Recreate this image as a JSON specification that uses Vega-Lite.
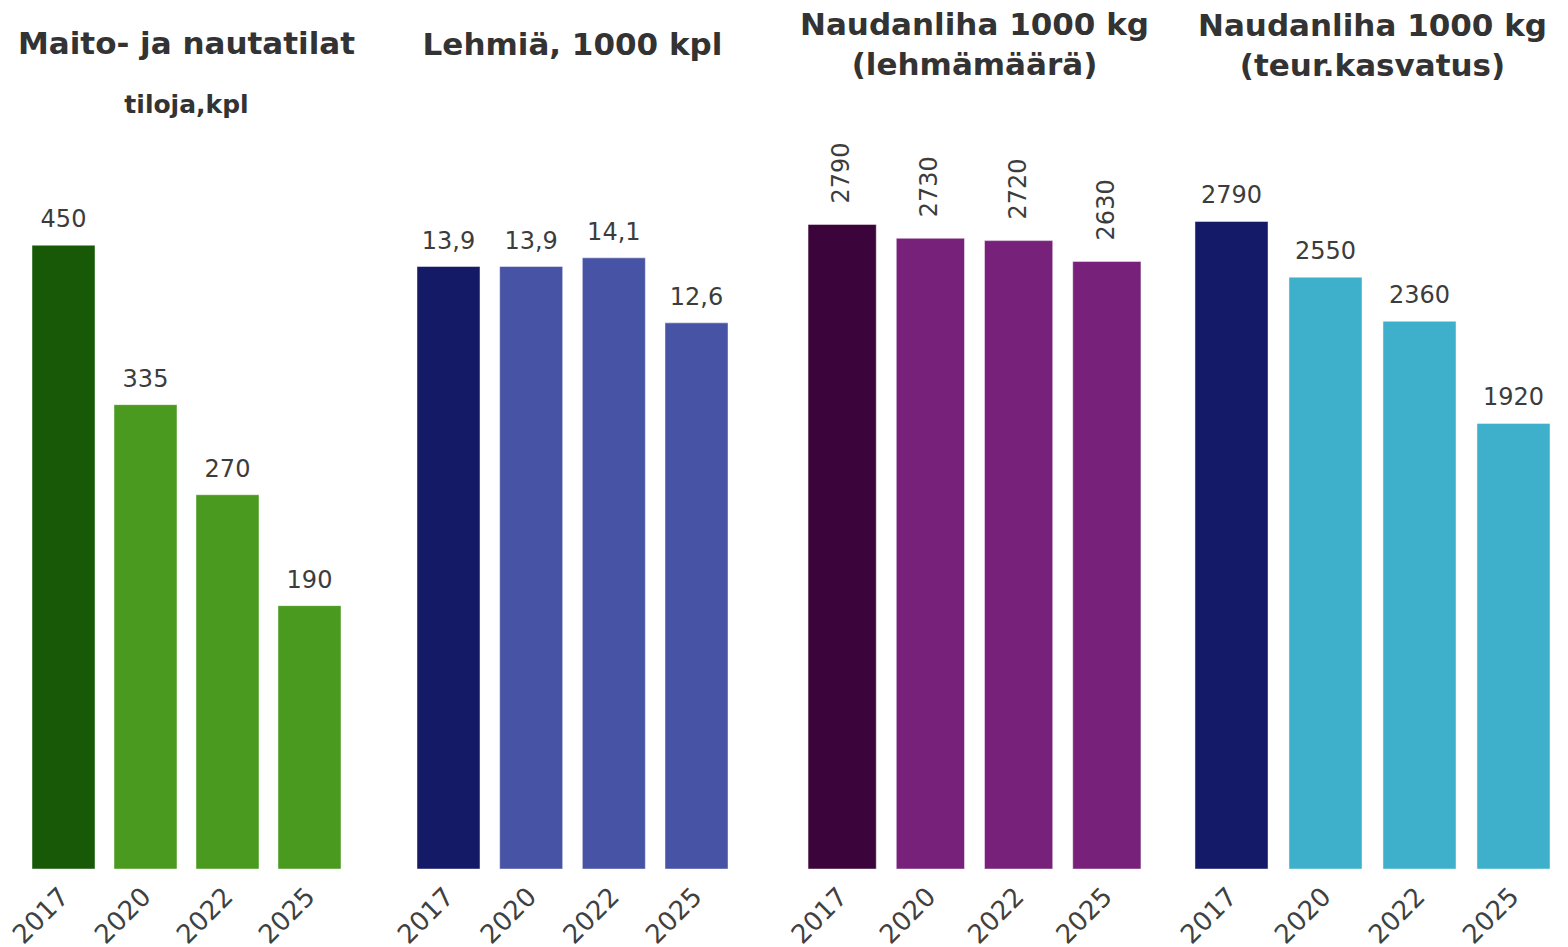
{
  "$schema": "https://vega.github.io/schema/vega-lite/v6.json",
  "padding": {"left": 8, "top": 10, "right": 0, "bottom": 0},
  "background": "#ffffff",
  "datasets": {
    "tilat": [
      {"vuosi": "2017", "arvo": 450},
      {"vuosi": "2020", "arvo": 335},
      {"vuosi": "2022", "arvo": 270},
      {"vuosi": "2025", "arvo": 190}
    ],
    "lehmat": [
      {"vuosi": "2017", "arvo": 13.9},
      {"vuosi": "2020", "arvo": 13.9},
      {"vuosi": "2022", "arvo": 14.1},
      {"vuosi": "2025", "arvo": 12.6}
    ],
    "liha_lehma": [
      {"vuosi": "2017", "arvo": 2790},
      {"vuosi": "2020", "arvo": 2730},
      {"vuosi": "2022", "arvo": 2720},
      {"vuosi": "2025", "arvo": 2630}
    ],
    "liha_teur": [
      {"vuosi": "2017", "arvo": 2790},
      {"vuosi": "2020", "arvo": 2550},
      {"vuosi": "2022", "arvo": 2360},
      {"vuosi": "2025", "arvo": 1920}
    ]
  },
  "hconcat": [
    {
      "width": 357,
      "height": 700,
      "title": {"text": "Maito- ja nautatilat", "subtitle": "tiloja,kpl", "offset": 50, "subtitlePadding": 32},
      "data": {"name": "tilat"},
      "encoding": {
        "x": {"field": "vuosi", "type": "ordinal", "sort": null, "scale": {"paddingInner": 0.2317, "paddingOuter": 0.2927}},
        "y": {"field": "arvo", "type": "quantitative", "scale": {"domain": [0, 505], "nice": false}, "axis": null}
      },
      "layer": [
        {
          "mark": {"type": "bar", "stroke": "#ffffff", "strokeOpacity": 0.45, "strokeWidth": 1},
          "encoding": {"color": {"condition": {"test": "datum.vuosi === '2017'", "value": "#175907"}, "value": "#4a9a1f"}}
        },
        {
          "mark": {"type": "text", "baseline": "alphabetic", "dy": -18, "font": "DejaVu Sans", "fontSize": 24, "color": "#3c3c3c"},
          "encoding": {"text": {"field": "arvo", "type": "quantitative", "format": "d"}}
        }
      ]
    },
    {
      "width": 395,
      "height": 700,
      "title": {"text": "Lehmiä, 1000 kpl", "offset": 107},
      "data": {"name": "lehmat"},
      "encoding": {
        "x": {"field": "vuosi", "type": "ordinal", "sort": null, "scale": {"paddingInner": 0.238, "paddingOuter": 0.508}},
        "y": {"field": "arvo", "type": "quantitative", "scale": {"domain": [0, 16.15], "nice": false}, "axis": null}
      },
      "layer": [
        {
          "mark": {"type": "bar", "stroke": "#ffffff", "strokeOpacity": 0.45, "strokeWidth": 1},
          "encoding": {"color": {"condition": {"test": "datum.vuosi === '2017'", "value": "#141a66"}, "value": "#4753a4"}}
        },
        {
          "mark": {"type": "text", "baseline": "alphabetic", "dy": -18, "font": "DejaVu Sans", "fontSize": 24, "color": "#3c3c3c"},
          "encoding": {"text": {"field": "arvo", "type": "quantitative", "format": ".1f"}}
        }
      ]
    },
    {
      "width": 389,
      "height": 700,
      "title": {"text": ["Naudanliha 1000 kg", "(lehmämäärä)"], "offset": 60},
      "data": {"name": "liha_lehma"},
      "encoding": {
        "x": {"field": "vuosi", "type": "ordinal", "sort": null, "scale": {"paddingInner": 0.227, "paddingOuter": 0.318}},
        "y": {"field": "arvo", "type": "quantitative", "scale": {"domain": [0, 3030], "nice": false}, "axis": null}
      },
      "layer": [
        {
          "mark": {"type": "bar", "stroke": "#ffffff", "strokeOpacity": 0.45, "strokeWidth": 1},
          "encoding": {"color": {"condition": {"test": "datum.vuosi === '2017'", "value": "#3b053c"}, "value": "#77217b"}}
        },
        {
          "mark": {"type": "text", "angle": 270, "align": "left", "baseline": "middle", "dx": 21, "font": "DejaVu Sans", "fontSize": 24, "color": "#3c3c3c"},
          "encoding": {"text": {"field": "arvo", "type": "quantitative", "format": "d"}}
        }
      ]
    },
    {
      "width": 387,
      "height": 700,
      "title": {"text": ["Naudanliha 1000 kg", "(teur.kasvatus)"], "offset": 86},
      "data": {"name": "liha_teur"},
      "encoding": {
        "x": {"field": "vuosi", "type": "ordinal", "sort": null, "scale": {"paddingInner": 0.223, "paddingOuter": 0.17}},
        "y": {"field": "arvo", "type": "quantitative", "scale": {"domain": [0, 3016], "nice": false}, "axis": null}
      },
      "layer": [
        {
          "mark": {"type": "bar", "stroke": "#ffffff", "strokeOpacity": 0.45, "strokeWidth": 1},
          "encoding": {"color": {"condition": {"test": "datum.vuosi === '2017'", "value": "#141a68"}, "value": "#3fb0cc"}}
        },
        {
          "mark": {"type": "text", "baseline": "alphabetic", "dy": -18, "font": "DejaVu Sans", "fontSize": 24, "color": "#3c3c3c"},
          "encoding": {"text": {"field": "arvo", "type": "quantitative", "format": "d"}}
        }
      ]
    }
  ],
  "spacing": 10,
  "bounds": "flush",
  "config": {
    "locale": {"number": {"decimal": ",", "thousands": " ", "grouping": [3], "currency": ["", " €"]}},
    "view": {"stroke": null},
    "axisX": {
      "title": null,
      "labelAngle": -45,
      "labelFont": "DejaVu Sans",
      "labelFontSize": 26,
      "labelColor": "#404040",
      "labelPadding": 14,
      "labelOffset": -8,
      "domain": false,
      "ticks": false,
      "grid": false
    },
    "title": {
      "font": "DejaVu Sans",
      "fontSize": 31,
      "fontWeight": "bold",
      "color": "#333333",
      "anchor": "middle",
      "frame": "group",
      "lineHeight": 40,
      "subtitleFont": "DejaVu Sans",
      "subtitleFontSize": 25,
      "subtitleFontWeight": "bold",
      "subtitleColor": "#333333"
    }
  }
}
